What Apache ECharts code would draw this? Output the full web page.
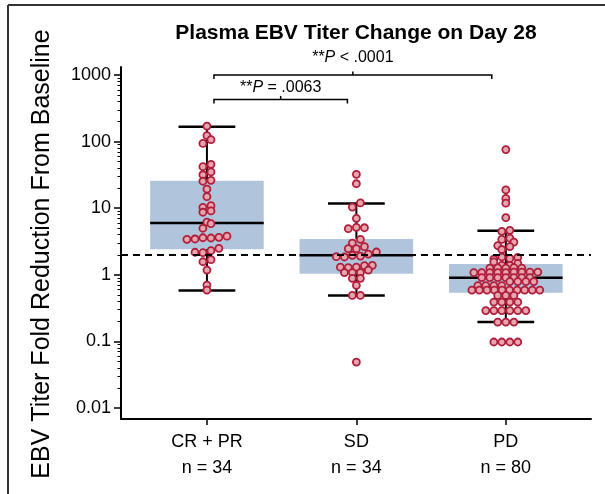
<!DOCTYPE html>
<html>
<head>
<meta charset="utf-8">
<script src="https://cdn.jsdelivr.net/npm/echarts@6/dist/echarts.min.js"></script>
<style>
  html, body { margin: 0; padding: 0; background: #fff; }
  #chart { width: 605px; height: 494px; }
</style>
</head>
<body>
<div id="chart"></div>
<script>
// 分组
const categories = ['CR + PR', 'SD', 'PD'];
const groupSizes = ['n = 34', 'n = 34', 'n = 80'];

// 纵轴刻度（对数）
const majorTicks = [0.01, 0.1, 1, 10, 100, 1000];
const tickLabels = ['0.01', '0.1', '1', '10', '100', '1000'];

// 箱线：下须, Q1, 中位数, Q3, 上须
const boxStats = [
  [0.58, 2.41, 6.0, 25.9, 167],
  [0.49, 1.04, 1.96, 3.45, 11.8],
  [0.195, 0.54, 0.9, 1.45, 4.6]
];

// 阈值虚线
const foldLine = 2;

// 散点：[横向偏移, 倍数]
const crprPoints = [
  [0, 171], [0, 123], [0.027, 107], [-0.027, 94],
  [0.027, 45.6], [-0.027, 42], [0.027, 35], [-0.027, 31.8], [0.027, 26.2], [-0.027, 25.4],
  [0, 19.4], [0, 14.9],
  [0.027, 10.9], [-0.027, 10.3], [0.027, 9.1], [-0.027, 8.7],
  [0, 6.2], [0.027, 5.85], [-0.027, 5.0],
  [-0.134, 3.41], [-0.08, 3.45], [-0.027, 3.6], [0.027, 3.57], [0.08, 3.65], [0.134, 3.8],
  [-0.08, 2.18], [-0.027, 2.15], [0.027, 2.3], [0.08, 2.5],
  [-0.027, 1.57], [0.027, 1.69],
  [0, 1.18],
  [0, 0.7], [0, 0.59]
];
const sdPoints = [
  [0, 32.3], [0, 23.3], [0.027, 12.0], [-0.027, 10.4], [0, 7.05],
  [-0.054, 4.92], [0, 5.16], [0.054, 5.09],
  [0.027, 3.41], [-0.027, 3.0], [0.054, 2.64], [-0.054, 2.47], [0, 2.47],
  [-0.134, 1.87], [-0.08, 1.85], [-0.027, 1.96], [0.027, 1.91], [0.08, 2.05], [0.134, 2.2],
  [-0.107, 1.3], [-0.054, 1.28], [0, 1.3], [0.054, 1.37], [0.107, 1.39],
  [-0.08, 1.08], [-0.027, 1.08], [0.027, 1.08], [0.08, 1.18],
  [-0.027, 0.885], [0.027, 0.885],
  [0, 0.695],
  [-0.027, 0.49], [0.027, 0.49],
  [0, 0.049]
];
const pdPoints = [
  [0, 76], [0, 18.8], [0, 14.0], [0, 11.9], [0, 7.2],
  [-0.027, 4.5], [0.027, 4.65],
  [-0.027, 3.4], [0.027, 3.55],
  [0.054, 3.1],
  [-0.054, 2.75], [0.027, 2.65], [-0.027, 2.4],
  [-0.08, 1.72], [-0.027, 1.85], [0.027, 1.76], [0.08, 1.82],
  [-0.08, 1.56], [-0.027, 1.39], [0.027, 1.39], [0.08, 1.48],
  [-0.107, 1.26], [-0.054, 1.27], [0, 1.26], [0.054, 1.28], [0.107, 1.26],
  [-0.214, 1.08], [-0.161, 1.08], [-0.107, 1.08], [-0.054, 1.08], [0, 1.08], [0.054, 1.1], [0.107, 1.1], [0.161, 1.1], [0.214, 1.1],
  [-0.161, 0.91], [-0.107, 0.91], [-0.054, 0.91], [0, 0.91], [0.054, 0.91], [0.107, 0.91], [0.161, 0.91],
  [0.027, 0.79], [0.08, 0.79], [0.134, 0.79], [0.187, 0.79],
  [-0.187, 0.69], [-0.134, 0.69], [-0.08, 0.69], [-0.027, 0.69],
  [-0.227, 0.59], [-0.177, 0.59], [-0.126, 0.59], [-0.076, 0.59], [-0.025, 0.59],
  [0.025, 0.59], [0.076, 0.59], [0.126, 0.59], [0.177, 0.59], [0.227, 0.59],
  [-0.054, 0.49], [0, 0.49], [0.054, 0.49],
  [-0.08, 0.39], [-0.027, 0.39], [0.027, 0.39], [0.08, 0.39],
  [-0.134, 0.29], [-0.08, 0.29], [-0.027, 0.29], [0.027, 0.29], [0.08, 0.29], [0.134, 0.29],
  [-0.054, 0.195], [0, 0.195], [0.054, 0.195],
  [-0.08, 0.098], [-0.027, 0.098], [0.027, 0.098], [0.08, 0.098]
];

// 显著性标注：[起点, 终点, 高度(倍数), 文字]
const brackets = [
  [1.047, 2.906, 1000, ' < .0001'],
  [1.047, 1.94, 430, ' = .0063']
];
const bracketLabelGap = [17, 12];

const FONT = "'Liberation Sans', Arial, sans-serif";
const log = v => Math.log10(v);

const minorTicks = [];
majorTicks.slice(0, -1).forEach(t => {
  for (let k = 2; k <= 9; k++) minorTicks.push(log(t * k));
});

const scatterData = [];
[crprPoints, sdPoints, pdPoints].forEach((pts, i) => {
  pts.forEach(p => scatterData.push([i + 1 + p[0], log(p[1])]));
});

function renderBox(params, api) {
  const x = api.value(0);
  const unit = api.size([1, 0])[0];
  const boxHalf = unit * 0.38;
  const capHalf = unit * 0.19;
  const pLo = api.coord([x, api.value(1)]);
  const pQ1 = api.coord([x, api.value(2)]);
  const pMed = api.coord([x, api.value(3)]);
  const pQ3 = api.coord([x, api.value(4)]);
  const pHi = api.coord([x, api.value(5)]);
  const thick = { stroke: '#000', lineWidth: 2.5 };
  return {
    type: 'group',
    children: [
      { type: 'line', shape: { x1: pHi[0], y1: pHi[1], x2: pLo[0], y2: pLo[1] }, style: { stroke: '#000', lineWidth: 2 } },
      { type: 'rect', shape: { x: pQ3[0] - boxHalf, y: pQ3[1], width: boxHalf * 2, height: pQ1[1] - pQ3[1] }, style: { fill: '#b0c4dc' } },
      { type: 'line', shape: { x1: pMed[0] - boxHalf, y1: pMed[1], x2: pMed[0] + boxHalf, y2: pMed[1] }, style: thick },
      { type: 'line', shape: { x1: pHi[0] - capHalf, y1: pHi[1], x2: pHi[0] + capHalf, y2: pHi[1] }, style: thick },
      { type: 'line', shape: { x1: pLo[0] - capHalf, y1: pLo[1], x2: pLo[0] + capHalf, y2: pLo[1] }, style: thick }
    ]
  };
}

function renderBracket(params, api) {
  const i = params.dataIndex;
  const a = api.coord([api.value(0), api.value(2)]);
  const b = api.coord([api.value(1), api.value(2)]);
  const mid = (a[0] + b[0]) / 2;
  const line = { stroke: '#000', lineWidth: 1.5 };
  return {
    type: 'group',
    children: [
      { type: 'polyline', shape: { points: [[a[0], a[1] + 4], a, b, [b[0], b[1] + 4]] }, style: { stroke: '#000', lineWidth: 1.5, fill: null } },
      { type: 'line', shape: { x1: mid, y1: a[1], x2: mid, y2: a[1] - 3.5 }, style: line },
      {
        type: 'text',
        x: mid,
        y: a[1] - bracketLabelGap[i],
        style: {
          text: '**{i|P}' + brackets[i][3],
          align: 'center',
          verticalAlign: 'middle',
          fontFamily: FONT,
          fontSize: 16,
          fill: '#000',
          rich: { i: { fontStyle: 'italic', fontFamily: FONT, fontSize: 16, fill: '#000' } }
        }
      }
    ]
  };
}

const chart = echarts.init(document.getElementById('chart'), null, { renderer: 'canvas' });

chart.setOption({
  animation: false,
  backgroundColor: '#fff',
  textStyle: { fontFamily: FONT },
  grid: { left: 121, right: 14, top: 67, bottom: 75, outerBoundsMode: 'none' },
  xAxis: {
    type: 'value',
    min: 0.425,
    max: 3.57,
    splitLine: { show: false },
    axisLine: { show: true, onZero: false, lineStyle: { color: '#000', width: 2 } },
    axisTick: { show: true, customValues: [1, 2, 3], length: 6, lineStyle: { color: '#000', width: 1.5 } },
    axisLabel: {
      customValues: [1, 2, 3],
      formatter: v => categories[Math.round(v) - 1] + '\n' + groupSizes[Math.round(v) - 1],
      fontSize: 18,
      lineHeight: 26,
      color: '#000',
      margin: 10,
      fontFamily: FONT
    }
  },
  yAxis: [
    {
      type: 'value',
      min: -2.165,
      max: 3.12,
      splitLine: { show: false },
      axisLine: { show: true, onZero: false, lineStyle: { color: '#000', width: 2 } },
      axisTick: { show: true, customValues: majorTicks.map(log), length: 7, lineStyle: { color: '#000', width: 1.5 } },
      axisLabel: {
        customValues: majorTicks.map(log),
        formatter: v => tickLabels[Math.round(v) + 2],
        fontSize: 18,
        color: '#000',
        margin: 10,
        fontFamily: FONT
      }
    },
    {
      type: 'value',
      min: -2.165,
      max: 3.12,
      position: 'left',
      splitLine: { show: false },
      axisLine: { show: false },
      axisLabel: { show: false },
      axisTick: { show: true, customValues: minorTicks, length: 3.5, lineStyle: { color: '#000', width: 1 } }
    }
  ],
  graphic: [
    { type: 'line', shape: { x1: 8, y1: 5, x2: 605, y2: 5 }, style: { stroke: '#333', lineWidth: 2 } },
    { type: 'line', shape: { x1: 8, y1: 5, x2: 8, y2: 494 }, style: { stroke: '#333', lineWidth: 2 } },
    {
      type: 'text', x: 356, y: 33,
      style: { text: 'Plasma EBV Titer Change on Day 28', align: 'center', verticalAlign: 'middle', fontFamily: FONT, fontWeight: 'bold', fontSize: 21, fill: '#000' }
    },
    {
      type: 'text', x: 42, y: 254, rotation: Math.PI / 2,
      style: { text: 'EBV Titer Fold Reduction From Baseline', align: 'center', verticalAlign: 'middle', fontFamily: FONT, fontSize: 25, fill: '#000' }
    }
  ],
  series: [
    {
      type: 'custom',
      z: 2,
      renderItem: renderBox,
      data: boxStats.map((s, i) => [i + 1].concat(s.map(log))),
      encode: { x: 0, y: [1, 2, 3, 4, 5] },
      silent: true
    },
    {
      type: 'line',
      z: 3,
      data: [],
      markLine: {
        silent: true,
        symbol: 'none',
        label: { show: false },
        lineStyle: { type: [7, 5], color: '#000', width: 2 },
        data: [{ yAxis: log(foldLine) }]
      }
    },
    {
      type: 'scatter',
      z: 4,
      symbol: 'circle',
      symbolSize: 7,
      data: scatterData,
      itemStyle: { color: '#e6a6ad', borderColor: '#b01e3c', borderWidth: 1.8, opacity: 1 },
      silent: true
    },
    {
      type: 'custom',
      z: 5,
      renderItem: renderBracket,
      data: brackets.map(b => [b[0], b[1], log(b[2])]),
      encode: { x: [0, 1], y: 2 },
      clip: false,
      silent: true
    }
  ]
});
</script>
</body>
</html>
